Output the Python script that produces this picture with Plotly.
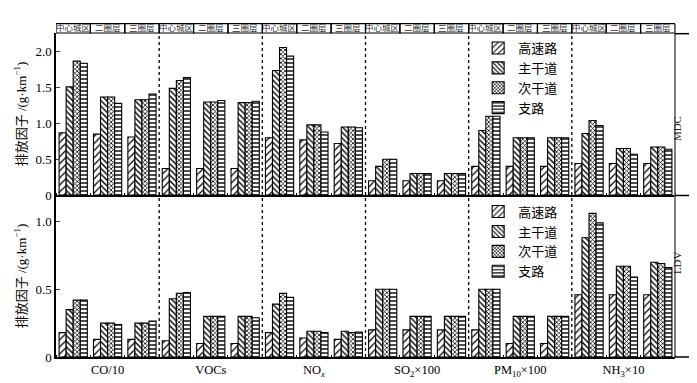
import plotly.graph_objects as go
from plotly.subplots import make_subplots

pollutants = ["CO/10", "VOCs", "NO<sub><i>x</i></sub>", "SO<sub>2</sub>×100",
              "PM<sub>10</sub>×100", "NH<sub>3</sub>×10"]
zones = ["中心城区", "二圈层", "三圈层"]
road_types = ["高速路", "主干道", "次干道", "支路"]
panels = ["MDC", "LDV"]

mdc_highway = [0.87, 0.85, 0.81, 0.37, 0.37, 0.37, 0.80, 0.77, 0.72,
               0.20, 0.20, 0.20, 0.40, 0.40, 0.40, 0.44, 0.44, 0.44]
mdc_arterial = [1.51, 1.37, 1.33, 1.49, 1.30, 1.29, 1.74, 0.98, 0.95,
                0.40, 0.30, 0.30, 0.90, 0.80, 0.80, 0.86, 0.65, 0.67]
mdc_secondary = [1.87, 1.37, 1.33, 1.60, 1.30, 1.29, 2.06, 0.98, 0.95,
                 0.50, 0.30, 0.30, 1.10, 0.80, 0.80, 1.04, 0.65, 0.67]
mdc_branch = [1.84, 1.28, 1.41, 1.64, 1.32, 1.31, 1.94, 0.88, 0.94,
              0.50, 0.30, 0.30, 1.10, 0.80, 0.80, 0.97, 0.57, 0.64]

ldv_highway = [0.18, 0.13, 0.13, 0.12, 0.10, 0.10, 0.18, 0.14, 0.13,
               0.20, 0.20, 0.20, 0.20, 0.10, 0.10, 0.46, 0.46, 0.46]
ldv_arterial = [0.35, 0.25, 0.25, 0.43, 0.30, 0.30, 0.39, 0.19, 0.19,
                0.50, 0.30, 0.30, 0.50, 0.30, 0.30, 0.88, 0.67, 0.70]
ldv_secondary = [0.42, 0.25, 0.25, 0.47, 0.30, 0.30, 0.47, 0.19, 0.18,
                 0.50, 0.30, 0.30, 0.50, 0.30, 0.30, 1.06, 0.67, 0.69]
ldv_branch = [0.42, 0.24, 0.265, 0.475, 0.30, 0.29, 0.44, 0.18, 0.185,
              0.50, 0.30, 0.30, 0.50, 0.30, 0.30, 0.99, 0.59, 0.66]

top_ticks = [0, 0.5, 1.0, 1.5, 2.0]
top_ticktext = ["0", "0.5", "1.0", "1.5", "2.0"]
bot_ticks = [0, 0.5, 1.0]
bot_ticktext = ["0", "0.5", "1.0"]

FONT = "Liberation Serif, 'Noto Sans CJK SC', serif"
shapes_pat = ["/", "\\", "x", "-"]
pat_size = [5, 4, 3, 4]
pat_sol = [0.25, 0.35, 0.45, 0.35]

n_slots = len(pollutants) * len(zones)
xs = list(range(n_slots))

fig = make_subplots(rows=2, cols=1, shared_xaxes=True, vertical_spacing=0)

mdc_series = [mdc_highway, mdc_arterial, mdc_secondary, mdc_branch]
ldv_series = [ldv_highway, ldv_arterial, ldv_secondary, ldv_branch]

for row, series, leg in [(1, mdc_series, "legend"), (2, ldv_series, "legend2")]:
    for k, (name, vals) in enumerate(zip(road_types, series)):
        fig.add_trace(go.Bar(
            x=xs, y=vals, name=name, legend=leg,
            marker=dict(color="white",
                        line=dict(color="black", width=1.1),
                        pattern=dict(shape=shapes_pat[k], fgcolor="black",
                                     bgcolor="white", size=pat_size[k],
                                     solidity=pat_sol[k], fillmode="replace")),
        ), row=row, col=1)

fig.update_layout(
    width=697, height=383,
    margin=dict(l=40, r=30, t=25, b=27),
    paper_bgcolor="white", plot_bgcolor="white",
    barmode="group", bargap=0.18, bargroupgap=0,
    font=dict(family=FONT, size=12, color="black"),
    legend=dict(x=0.682, y=1.0, xanchor="left", yanchor="top",
                bgcolor="rgba(0,0,0,0)", font=dict(size=13),
                tracegroupgap=0, itemwidth=30),
    legend2=dict(x=0.682, y=0.495, xanchor="left", yanchor="top",
                 bgcolor="rgba(0,0,0,0)", font=dict(size=13),
                 tracegroupgap=0, itemwidth=30),
    showlegend=True,
)

fig.update_yaxes(range=[0, 2.263], tickvals=top_ticks, ticktext=top_ticktext,
                 ticks="inside", ticklen=4, tickwidth=1.2, showline=True,
                 linecolor="black", linewidth=1.5, showgrid=False, zeroline=False,
                 tickfont=dict(size=13),
                 title=dict(text="排放因子 /(g·km<sup>−1</sup>)", standoff=6,
                            font=dict(size=13)),
                 row=1, col=1)
fig.update_yaxes(range=[0, 1.196], tickvals=bot_ticks, ticktext=bot_ticktext,
                 ticks="inside", ticklen=4, tickwidth=1.2, showline=True,
                 linecolor="black", linewidth=1.5, showgrid=False, zeroline=False,
                 tickfont=dict(size=13),
                 title=dict(text="排放因子 /(g·km<sup>−1</sup>)", standoff=6,
                            font=dict(size=13)),
                 row=2, col=1)

group_centers = [i * len(zones) + 1 for i in range(len(pollutants))]
fig.update_xaxes(range=[-0.5, n_slots - 0.5], showgrid=False, zeroline=False,
                 showline=True, linecolor="black", linewidth=2,
                 tickvals=group_centers, ticktext=pollutants, ticks="",
                 tickfont=dict(size=12.5),
                 minor=dict(tick0=0.5, dtick=1, ticks="inside", ticklen=2,
                            tickcolor="black", showgrid=False),
                 row=2, col=1)
fig.update_xaxes(range=[-0.5, n_slots - 0.5], showgrid=False, zeroline=False,
                 showline=True, linecolor="black", linewidth=2,
                 showticklabels=False, ticks="",
                 minor=dict(tick0=0.5, dtick=1, ticks="inside", ticklen=2,
                            tickcolor="black", showgrid=False),
                 row=1, col=1)

shapes = []
annotations = []
# dashed separators between pollutant groups
for g in range(1, len(pollutants)):
    xb = g * len(zones) - 0.5
    shapes.append(dict(type="line", xref="x", yref="paper", x0=xb, x1=xb,
                       y0=0, y1=1, line=dict(color="black", width=1.3, dash="dot")))
# header boxes
hy0, hy1 = 1.0, 1.0 + 9.5 / 331
for i in range(n_slots):
    shapes.append(dict(type="rect", xref="x", yref="paper", x0=i - 0.5, x1=i + 0.5,
                       y0=hy0, y1=hy1, line=dict(color="black", width=1.2),
                       fillcolor="rgba(0,0,0,0)"))
    annotations.append(dict(x=i, y=(hy0 + hy1) / 2, xref="x", yref="paper",
                            text=zones[i % len(zones)], showarrow=False,
                            font=dict(size=8.5, color="#333"), yanchor="middle",
                            borderpad=0))
# right strip (drawn as explicit lines)
sx0, sx1 = 1.0, 1.0 + 19 / 627
strip_top = 1.0 - 0.7 / 331
mid = 165 / 331
strip_lines = [
    (sx0, sx0, 0, hy1, "#555"),
    (sx1, sx1, 0, strip_top, "black"),
    (sx0, sx1, strip_top, strip_top, "black"),
    (sx0, sx1, mid, mid, "black"),
    (sx0, sx1, 0, 0, "black"),
]
for x0, x1, y0, y1, col in strip_lines:
    shapes.append(dict(type="line", xref="paper", yref="paper", x0=x0, x1=x1,
                       y0=y0, y1=y1, line=dict(color=col, width=1.5)))
for lab, yc in zip(panels, [(1 + mid) / 2, mid / 2]):
    annotations.append(dict(x=(sx0 + sx1) / 2, y=yc, xref="paper", yref="paper",
                            text=lab, textangle=-90, showarrow=False,
                            font=dict(size=11, color="#222")))

fig.update_layout(shapes=shapes, annotations=annotations)
fig.write_html("out.html")
